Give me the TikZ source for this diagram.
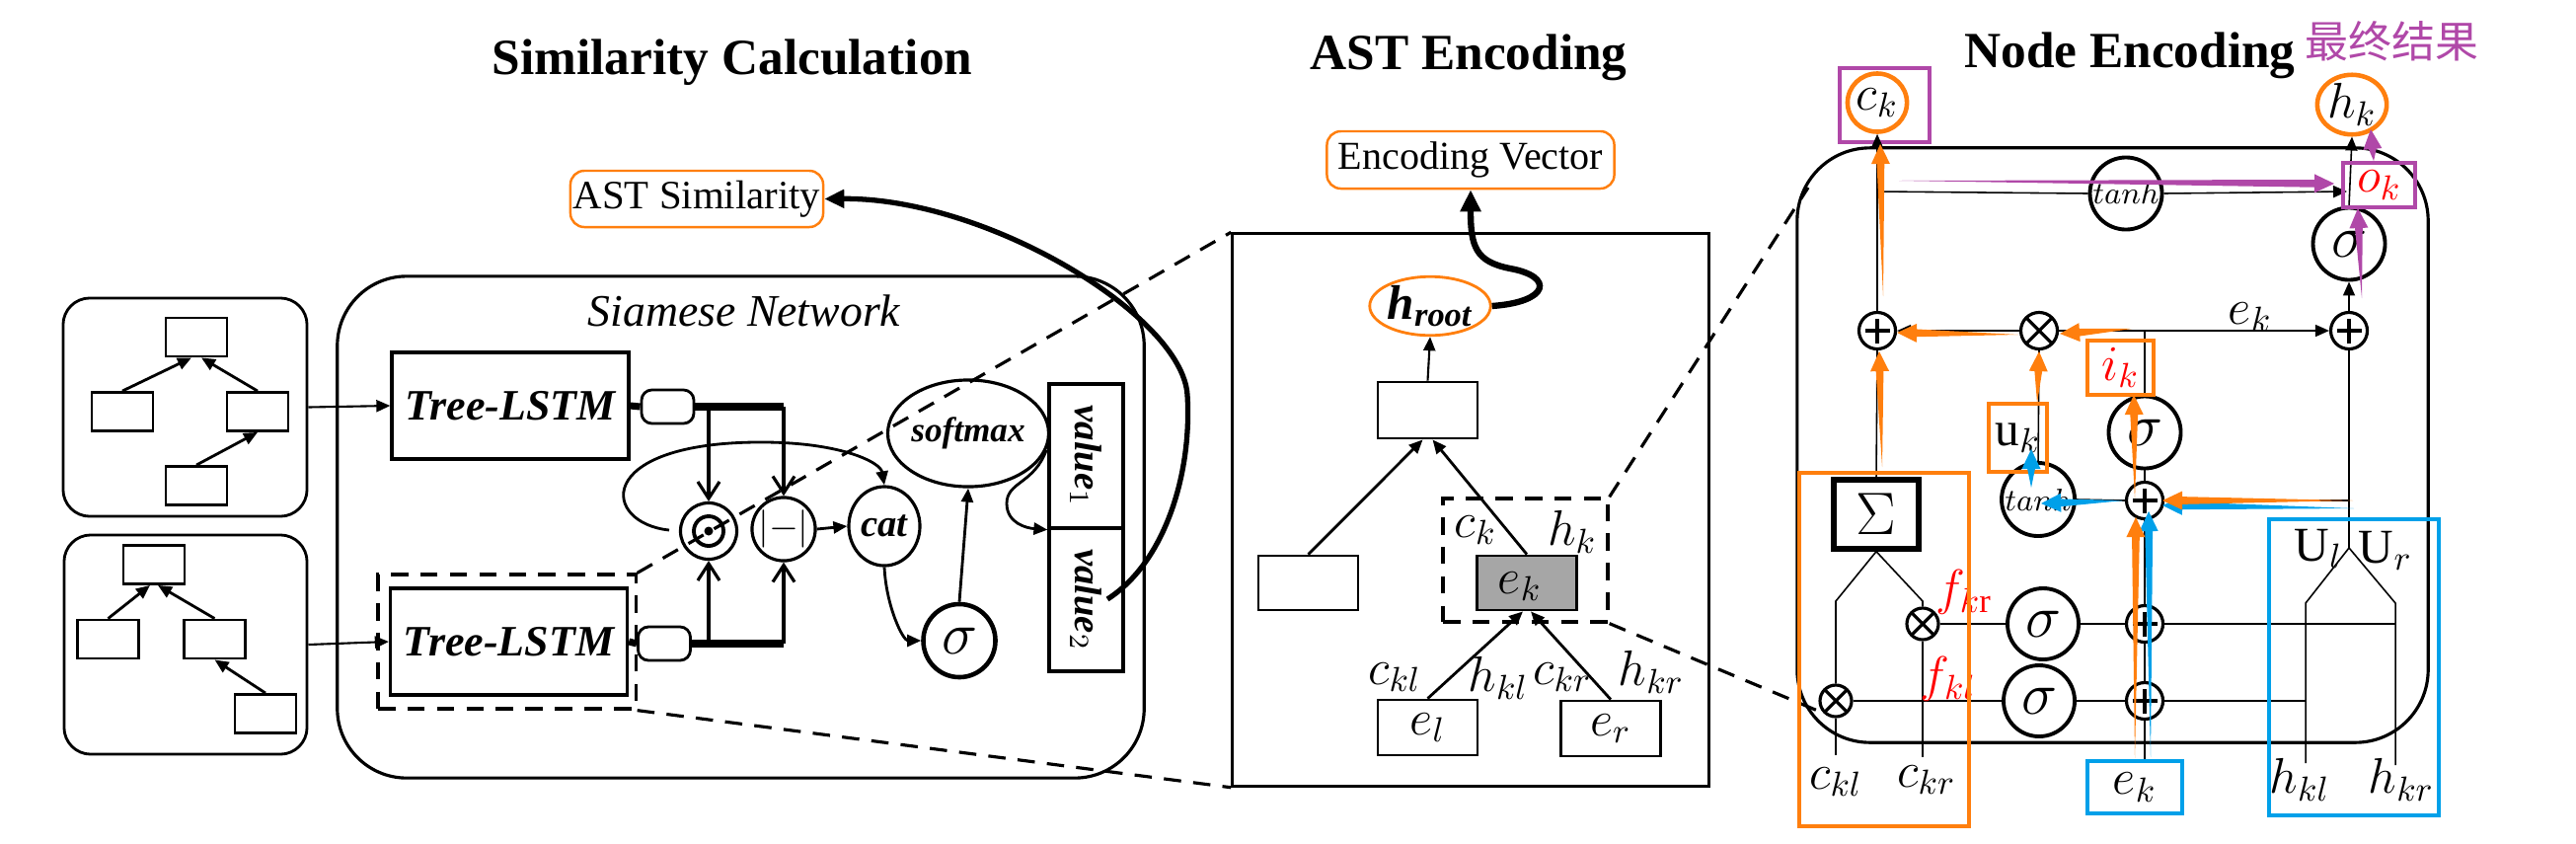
\documentclass[tikz,border=0pt]{standalone}
\usepackage{fontspec}
\setmainfont{Liberation Serif}
\newfontfamily\cjk{Noto Sans CJK SC}
\usetikzlibrary{arrows.meta,calc,shapes.geometric}
\definecolor{myorange}{HTML}{FF7F0E}
\definecolor{myblue}{HTML}{00A0E9}
\definecolor{mypurple}{HTML}{B048A8}
\definecolor{mygray}{HTML}{A6A6A6}
\newcommand\taper[3]{%
  \coordinate (tpA) at (#2);
  \coordinate (tpB) at (#3);
  \coordinate (tpH) at ($(tpB)!5.7pt!(tpA)$);
  \fill[#1] (tpA) -- ($(tpH)!1.1pt!90:(tpB)$) -- ($(tpH)!2.7pt!90:(tpB)$) -- (tpB) -- ($(tpH)!2.7pt!-90:(tpB)$) -- ($(tpH)!1.1pt!-90:(tpB)$) -- cycle;
}
\tikzset{
  title/.style={font=\fontsize{14.6}{16}\selectfont\bfseries, anchor=base, inner sep=0},
  ln/.style={line width=0.45pt},
  lm/.style={line width=0.8pt},
  tri/.style={-{Triangle[length=1.4mm,width=1.2mm]}},
  vee/.style={-{Straight Barb[length=1.7mm,width=2.2mm]}},
  rbox/.style={draw, line width=0.8pt, rounded corners=7.7pt, inner sep=0},
  tnode/.style={draw, line width=0.8pt, minimum width=6.2mm, minimum height=3.9mm, inner sep=0},
  anode/.style={draw, line width=0.8pt, minimum width=10.1mm, minimum height=5.6mm, inner sep=0, font=\fontsize{14}{16}\selectfont},
  dsh/.style={dash pattern=on 5pt off 3.5pt, line width=0.9pt},
  mth/.style={font=\fontsize{14}{16}\selectfont, inner sep=0},
  tl/.style={draw, line width=0.9pt, minimum width=24mm, minimum height=10.8mm, inner sep=0, font=\bfseries\itshape\fontsize{12.5}{14}\selectfont},
  sbox/.style={draw, line width=0.8pt, rounded corners=3pt, minimum width=5.3mm, minimum height=3.4mm, inner sep=0},
  opc/.style={circle, draw, line width=0.9pt, minimum size=3.7mm, inner sep=0, fill=white},
  oplus/.style={opc, path picture={\draw[line width=0.9pt] ([yshift=0.6mm]path picture bounding box.south) -- ([yshift=-0.6mm]path picture bounding box.north) ([xshift=0.6mm]path picture bounding box.west) -- ([xshift=-0.6mm]path picture bounding box.east);}},
  otimes/.style={opc, path picture={\draw[line width=0.9pt] (path picture bounding box.north west) -- (path picture bounding box.south east) (path picture bounding box.north east) -- (path picture bounding box.south west);}},
  sig/.style={circle, draw, line width=1.1pt, minimum size=7.3mm, inner sep=0, fill=white, font=\fontsize{16}{18}\selectfont},
  hbox/.style={line width=1.3pt, inner sep=0},
}
\begin{document}
\begin{tikzpicture}[x=0.01cm,y=-0.01cm]
\useasboundingbox (0,0) rectangle (2610,854);

% ---------- titles
\node[title] (t1) at (742,75) {Similarity Calculation};
\node[title] (t2) at (1488,70) {AST Encoding};
\node[title] (t3) at (2158,68) {Node Encoding};
\node[font=\cjk\fontsize{12.5}{14}\selectfont, text=mypurple, anchor=base, inner sep=0] (t4) at (2423,58) {最终结果};

% ---------- left trees
\node[rbox, minimum width=24.7mm, minimum height=22.1mm] (tb1) at (187.5,412.5) {};
\node[rbox, minimum width=24.6mm, minimum height=22.2mm] (tb2) at (188,653) {};
\node[tnode] (a1) at (199,341.5) {};
\node[tnode] (a2) at (124,417) {};
\node[tnode] (a3) at (261,417) {};
\node[tnode] (a4) at (199,492) {};
\draw[lm, tri] (a2.north) -- ([xshift=-0.5mm]a1.south);
\draw[lm, tri] (a3.north) -- ([xshift=0.5mm]a1.south);
\draw[lm, tri] (a4.north) -- (a3.south);
\node[tnode] (b1) at (156,572) {};
\node[tnode] (b2) at (109.5,647.5) {};
\node[tnode] (b3) at (217.5,647.5) {};
\node[tnode] (b4) at (269,723) {};
\draw[lm, tri] (b2.north) -- ([xshift=-0.4mm]b1.south);
\draw[lm, tri] (b3.north) -- ([xshift=0.4mm]b1.south);
\draw[lm, tri] (b4.north) -- (b3.south);

% ---------- Siamese network
\node[draw, line width=0.9pt, rounded corners=20pt, minimum width=81.7mm, minimum height=50.8mm, inner sep=0] (sia) at (750.5,534) {};
\node[font=\itshape\fontsize{13}{15}\selectfont, inner sep=0] (siat) at (754,315) {Siamese Network};
\node[tl] (TL1) at (517,411) {Tree-LSTM};
\node[tl] (TL2) at (515.5,650) {Tree-LSTM};
\node[draw, dsh, minimum width=26.1mm, minimum height=13.6mm, inner sep=0] (dbox) at (513.5,650) {};
\draw[ln, line width=0.6pt, tri] (tb1.east) -- (TL1.west);
\draw[ln, line width=0.6pt, tri] (tb2.east) -- (TL2.west);
\node[sbox] (sb1) at (676.5,412) {};
\node[sbox] (sb2) at (673,652) {};
\node[circle, draw, line width=0.9pt, minimum size=5.7mm, inner sep=0, path picture={\draw[line width=1.1pt] (path picture bounding box.center) circle (1.5mm); \fill (path picture bounding box.center) circle (0.45mm);}] (od) at (718,538) {};
\node[circle, draw, line width=0.9pt, minimum size=5.7mm, inner sep=0, font=\fontsize{11}{12}\selectfont] (mn) at (794,536) {$|{-}|$};
\node[ellipse, draw, line width=0.9pt, minimum width=7.2mm, minimum height=8mm, inner sep=0, font=\bfseries\itshape\fontsize{11}{12}\selectfont] (cat) at (896,533) {cat};
\node[ellipse, draw, line width=0.9pt, minimum width=12.5mm, minimum height=10.8mm, inner sep=0, font=\bfseries\itshape\fontsize{10}{12}\selectfont] (sm) at (981,439) {softmax};
\node[ellipse, draw, line width=1.3pt, minimum width=7.3mm, minimum height=7.4mm, inner sep=0, font=\fontsize{17}{18}\selectfont] (sg) at (972,649) {$\sigma$};
\node[draw, line width=0.9pt, minimum width=7.5mm, minimum height=14.6mm, inner sep=0] (v1) at (1100.5,462) {};
\node[draw, line width=0.9pt, minimum width=7.5mm, minimum height=14.5mm, inner sep=0] (v2) at (1100.5,607.5) {};
\node[rotate=-90, font=\bfseries\itshape\fontsize{11}{12}\selectfont, inner sep=0] (v1t) at (1100.5,462) {value$_1$};
\node[rotate=-90, font=\bfseries\itshape\fontsize{11}{12}\selectfont, inner sep=0] (v2t) at (1100.5,607.5) {value$_2$};

\coordinate (j1a) at (718,412);
\coordinate (j1b) at (794,412);
\coordinate (j2a) at (718,652);
\coordinate (j2b) at (794,652);
\draw[line width=2pt] (TL1.east) -- (sb1.west);
\draw[line width=2pt] (sb1.east) -- (j1b);
\draw[line width=2pt] (TL2.east) -- (sb2.west);
\draw[line width=2pt] (sb2.east) -- (j2b);
\draw[line width=0.9pt, vee] (j1a) -- (od.north);
\draw[line width=0.9pt, vee] (j1b) -- (mn.north);
\draw[line width=0.9pt, vee] (j2a) -- (od.south);
\draw[line width=0.9pt, vee] (j2b) -- (mn.south);
\coordinate (lp) at (678,537);
\draw[lm, tri] (lp) .. controls (610,530) and (600,450) .. (765,448) .. controls (850,447) and (892,468) .. (cat.north);
\draw[lm, tri] (mn.east) -- (cat.west);
\draw[lm, tri] (cat.south) .. controls (898,615) and (915,649) .. (sg.west);
\draw[lm, tri] (sg.north) -- (sm.south);
\draw[lm, tri] (sm.-12) .. controls (1048,490) and (1020,488) .. (1020,510) .. controls (1020,530) and (1040,535) .. (v1.south west);

\node[draw=myorange, line width=0.7pt, rounded corners=4pt, minimum width=25.6mm, minimum height=5.7mm, inner sep=0, font=\fontsize{11.6}{13}\selectfont] (astsim) at (706,201.5) {AST Similarity};
\coordinate (v2s) at (1122,607);
\draw[line width=1.5pt, -{Triangle[length=2mm,width=1.8mm]}] (v2s) .. controls (1180,570) and (1208,480) .. (1203,400) .. controls (1198,320) and (1000,200) .. (astsim.east);

% ---------- AST encoding
\node[draw=myorange, line width=0.7pt, rounded corners=4pt, minimum width=29.1mm, minimum height=5.8mm, inner sep=0, font=\fontsize{11.4}{13}\selectfont] (ev) at (1490,162) {Encoding Vector};
\node[draw, line width=0.9pt, minimum width=48.2mm, minimum height=55.9mm, inner sep=0] (astb) at (1490,516.5) {};
\node[ellipse, draw=myorange, line width=0.8pt, minimum width=12.2mm, minimum height=5.6mm, inner sep=0, font=\bfseries\itshape\fontsize{14}{16}\selectfont] (hroot) at (1449,310) {h\textsubscript{root}};
\node[anode, minimum height=5.7mm] (tn) at (1446.5,415.5) {};
\node[anode, minimum height=5.5mm] (lnd) at (1325.5,590.5) {};
\node[anode, minimum height=5.5mm, fill=mygray] (ek) at (1547,590.5) {};
\node[mth] (ekt) at (1540,594) {$e_k$};
\node[anode] (el) at (1446.5,737) {$e_l$};
\node[anode] (er) at (1632,738) {$e_r$};
\node[draw, dsh, minimum width=16.7mm, minimum height=12.5mm, inner sep=0] (dk) at (1545.5,567.5) {};
\draw[lm, tri] (lnd.north) -- ([xshift=-0.5mm]tn.south);
\draw[lm, tri] (ek.north) -- ([xshift=0.5mm]tn.south);
\draw[lm, tri] (el.north) -- ([xshift=-0.4mm]ek.south);
\draw[lm, tri] (er.north) -- ([xshift=0.4mm]ek.south);
\draw[ln, line width=0.6pt, tri] (tn.north) -- (hroot.south);
\draw[line width=1.8pt, -{Triangle[length=2.2mm,width=2mm]}] (hroot.east) .. controls (1570,306) and (1575,280) .. (1530,272) .. controls (1495,265) and (1490,250) .. (ev.south);
\node[mth] (l1) at (1495,537) {$c_k$};
\node[mth] (l2) at (1593,539) {$h_k$};
\node[mth] (l3) at (1413,686) {$c_{kl}$};
\node[mth] (l4) at (1518,687) {$h_{kl}$};
\node[mth] (l5) at (1583,686) {$c_{kr}$};
\node[mth] (l6) at (1673,681) {$h_{kr}$};

% dashed zoom lines
\draw[dsh] (dbox.north east) -- (astb.north west);
\draw[dsh] (dbox.south east) -- (astb.south west);

% ---------- Node encoding
\node[draw, line width=0.9pt, rounded corners=21pt, minimum width=63.9mm, minimum height=60.2mm, inner sep=0] (neb) at (2140.5,451) {};
\node[ellipse, draw=myorange, line width=1.3pt, minimum width=5.5mm, minimum height=5.9mm, inner sep=0, font=\fontsize{14}{16}\selectfont] (ck) at (1902,104) {$c_k$};
\node[ellipse, draw=myorange, line width=1.3pt, minimum width=5.5mm, minimum height=5.9mm, inner sep=0, font=\fontsize{14}{16}\selectfont] (hk) at (2383,106) {$h_k$};
\node[draw=mypurple, hbox, minimum width=9.1mm, minimum height=7.5mm] (ckbox) at (1909.5,106.5) {};
\node[sig, font=\fontsize{9.5}{10}\selectfont] (tanhT) at (2154,196) {$tanh$};
\node[sig] (sigR) at (2380,247) {$\sigma$};
\node[oplus] (pc) at (1902,335) {};
\node[otimes] (ox) at (2066,335) {};
\node[oplus] (pr) at (2380,335) {};
\node[sig] (sigM) at (2173,438) {$\sigma$};
\node[sig, minimum size=7.4mm, font=\fontsize{9.5}{10}\selectfont] (tanhL) at (2065,506) {$tanh$};
\node[oplus] (p2) at (2173,507) {};
\node[draw, line width=1.5pt, minimum width=8.6mm, minimum height=7mm, inner sep=0, font=\fontsize{16}{18}\selectfont] (Sig) at (1901,521) {$\Sigma$};
\node[otimes, minimum size=3.2mm] (oxr) at (1948,632) {};
\node[otimes, minimum size=3.2mm] (oxl) at (1860,710) {};
\node[sig, minimum size=7.2mm] (sfr) at (2070,632) {$\sigma$};
\node[sig, minimum size=7.2mm] (sfl) at (2066,710) {$\sigma$};
\node[oplus] (pfr) at (2173,632) {};
\node[oplus] (pfl) at (2173,710) {};

\coordinate (cj) at (1902,194);
\coordinate (okj) at (2378,194);
\coordinate (ej) at (2173,335);
\coordinate (Uv) at (2380,555);
\coordinate (uj) at (2380,507);
\coordinate (ekt2) at (2173,771);
\coordinate (sl) at (1860,609);
\coordinate (sr) at (1948,609);
\coordinate (ckle) at (1860,765);
\coordinate (ckre) at (1948,767);
\coordinate (fre) at (2427,632);
\coordinate (fle) at (2336,710);
\coordinate (ul1) at (2336,611);
\coordinate (ul2) at (2336,773);
\coordinate (ur1) at (2427,611);
\coordinate (ur2) at (2427,775);
\coordinate (nbtl) at (1832,190);

\draw[ln] (Sig.north) -- (pc.south);
\draw[ln, tri] (pc.north) -- (ck.south);
\draw[ln] (cj) -- (tanhT.west);
\draw[ln, tri] (tanhT.east) -- (okj);
\draw[ln, tri] (ox.west) -- (pc.east);
\draw[ln] (ej) -- (ox.east);
\draw[ln, tri] (ej) -- (pr.west);
\draw[ln] (sigM.north) -- (ej);
\draw[ln] (p2.north) -- (sigM.south);
\draw[ln] (tanhL.north) -- (ox.south);
\draw[ln] (p2.west) -- (tanhL.east);
\draw[ln, tri] (pr.north) -- (sigR.south);
\draw[ln, tri] (sigR.north) -- (hk.south);
\draw[ln] (Uv) -- (pr.south);
\draw[ln] (uj) -- (p2.east);
\draw[ln] (ekt2) -- (pfl.south);
\draw[ln] (pfl.north) -- (pfr.south);
\draw[ln] (pfr.north) -- (p2.south);
\draw[ln] (Sig.south) -- (sl) -- (oxl.north);
\draw[ln] (oxl.south) -- (ckle);
\draw[ln] (Sig.south) -- (sr) -- (oxr.north);
\draw[ln] (oxr.south) -- (ckre);
\draw[ln] (oxr.east) -- (sfr.west);
\draw[ln] (sfr.east) -- (pfr.west);
\draw[ln] (pfr.east) -- (fre);
\draw[ln] (oxl.east) -- (sfl.west);
\draw[ln] (sfl.east) -- (pfl.west);
\draw[ln] (pfl.east) -- (fle);
\draw[ln] (Uv) -- (ul1) -- (ul2);
\draw[ln] (Uv) -- (ur1) -- (ur2);

\draw[dsh] (dk.north east) -- (nbtl);
\draw[dsh] (dk.south east) -- (oxl.south west);

% labels
\node[mth] (lek) at (2280,321) {$e_k$};
\node[mth, text=red] (lfr) at (1990,600) {$f_{k\mathrm{r}}$};
\node[mth, text=red] (lfl) at (1974,688) {$f_{kl}$};
\node[mth] (lUl) at (2349,556) {$\mathrm{U}_l$};
\node[mth] (lUr) at (2417,558) {$\mathrm{U}_r$};
\node[mth] (b1l) at (1860,792) {$c_{kl}$};
\node[mth] (b2l) at (1952,790) {$c_{kr}$};
\node[mth] (b4l) at (2330,790) {$h_{kl}$};
\node[mth] (b5l) at (2433,790) {$h_{kr}$};

% highlight boxes
\node[draw=myorange, hbox, minimum width=6.7mm, minimum height=5.5mm, font=\fontsize{14}{16}\selectfont, text=red] (ik) at (2148.5,372.5) {$i_k$};
\node[draw=myorange, hbox, minimum width=5.9mm, minimum height=6.9mm, font=\fontsize{14}{16}\selectfont] (uk) at (2044.5,443.5) {$\mathrm{u}_k$};
\node[draw=mypurple, hbox, minimum width=7.3mm, minimum height=4.5mm, font=\fontsize{14}{16}\selectfont, text=red] (ok) at (2410.5,187.5) {$o_k$};
\node[draw=myorange, hbox, minimum width=17.2mm, minimum height=35.8mm] (obig) at (1909,658) {};
\node[draw=myblue, hbox, minimum width=17.2mm, minimum height=30mm] (ubox) at (2385,676) {};
\node[draw=myblue, hbox, minimum width=9.6mm, minimum height=5.3mm, font=\fontsize{14}{16}\selectfont] (ekb) at (2163,797.5) {$e_k$};

% colored flow arrows
\taper{myblue}{2179,767}{2177,518}
\taper{myblue}{2385,515}{2191,512}
\taper{myblue}{2152,507}{2068,510}
\taper{myblue}{2058,494}{2058,455}
\taper{myorange}{1908,300}{1905,146}
\taper{myorange}{1907,473}{1904,356}
\taper{myorange}{2045,339}{1922,337}
\taper{myorange}{2160,333}{2087,338}
\taper{myorange}{2064,408}{2066,356}
\taper{myorange}{2163,505}{2162,400}
\taper{myorange}{2163,768}{2164,524}
\taper{myorange}{2384,507}{2191,507}
\taper{mypurple}{1924,183}{2365,186}
\taper{mypurple}{2393,302}{2389,211}
\taper{mypurple}{2405,163}{2402,131}
\end{tikzpicture}
\end{document}
